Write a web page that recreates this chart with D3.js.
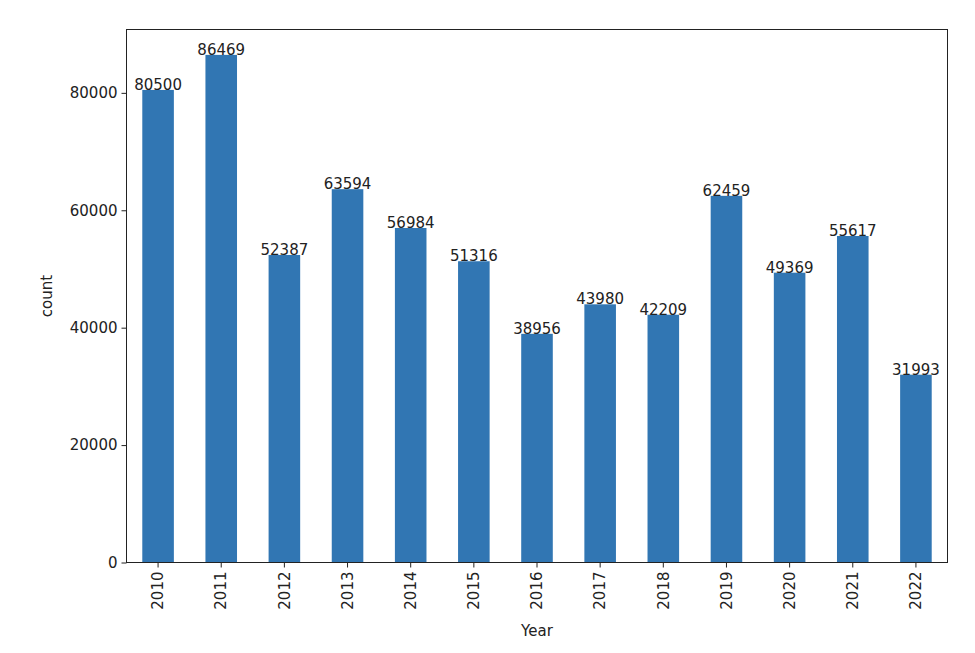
<!DOCTYPE html>
<html><head><meta charset="utf-8">
<script src="https://cdn.jsdelivr.net/npm/d3@7"></script>
<style>body{margin:0;background:#fff}svg{display:block}text{font-family:"DejaVu Sans",sans-serif;fill:#222}</style>
</head><body>
<svg id="c" width="975" height="653"></svg>
<script>
const years = ["2010","2011","2012","2013","2014","2015","2016","2017","2018","2019","2020","2021","2022"];
const counts = [80500,86469,52387,63594,56984,51316,38956,43980,42209,62459,49369,55617,31993];
const yTicks = [0,20000,40000,60000,80000];

const FS = "15px";
const svg = d3.select("#c");
const L = 126.5, R = 947.5, T = 29.5, B = 562.5;
const x = d3.scaleBand().domain(years).range([L, R]).paddingInner(0.5).paddingOuter(0.25);
const y = d3.scaleLinear().domain([0, d3.max(counts) * 1.05]).range([B, T]);

svg.append("g").selectAll("rect").data(years).join("rect")
  .attr("x", d => x(d)).attr("width", x.bandwidth())
  .attr("y", (d, i) => y(counts[i])).attr("height", (d, i) => B - y(counts[i]))
  .attr("fill", "#3176b3");

svg.append("g").selectAll("text").data(years).join("text")
  .attr("x", d => x(d) + x.bandwidth() / 2).attr("y", (d, i) => y(counts[i]))
  .attr("text-anchor", "middle").style("font-size", FS)
  .text((d, i) => counts[i]);

const ya = svg.append("g").attr("transform", `translate(${L},0)`)
  .call(d3.axisLeft(y).tickValues(yTicks).tickSize(5).tickPadding(4).tickFormat(d3.format("d")));
const xa = svg.append("g").attr("transform", `translate(0,${B})`)
  .call(d3.axisBottom(x).tickSize(5).tickPadding(4));
[ya, xa].forEach(a => { a.select(".domain").remove(); a.selectAll("line").attr("stroke", "#222");
  a.selectAll("text").style("font-size", FS).attr("fill", "#222"); });
xa.selectAll("text").attr("transform", "rotate(-90)").attr("text-anchor", "end")
  .attr("x", -9).attr("y", 0).attr("dy", "0.35em");

svg.append("rect").attr("x", L).attr("y", T).attr("width", R - L).attr("height", B - T)
  .attr("fill", "none").attr("stroke", "#222").attr("stroke-width", 1);

svg.append("text").attr("x", (L + R) / 2).attr("y", 636).attr("text-anchor", "middle")
  .style("font-size", FS).text("Year");
svg.append("text").attr("transform", `translate(52,${(T + B) / 2}) rotate(-90)`)
  .attr("text-anchor", "middle").style("font-size", FS).text("count");
</script>
</body></html>
